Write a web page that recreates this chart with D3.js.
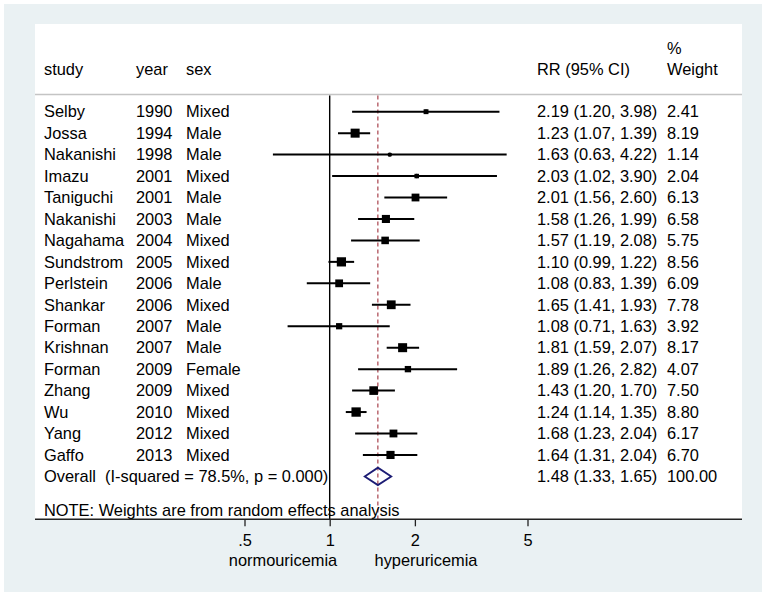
<!DOCTYPE html>
<html><head><meta charset="utf-8">
<script src="https://cdn.jsdelivr.net/npm/d3@7"></script>
<style>body{margin:0;background:#fff}svg{display:block}text{font-family:"Liberation Sans",Arial,sans-serif;font-size:16.4px;fill:#000}</style>
</head><body>
<script>
const studies = ["Selby","Jossa","Nakanishi","Imazu","Taniguchi","Nakanishi","Nagahama","Sundstrom","Perlstein","Shankar","Forman","Krishnan","Forman","Zhang","Wu","Yang","Gaffo"];
const years = [1990,1994,1998,2001,2001,2003,2004,2005,2006,2006,2007,2007,2009,2009,2010,2012,2013];
const sexes = ["Mixed","Male","Male","Mixed","Male","Male","Mixed","Mixed","Male","Mixed","Male","Male","Female","Mixed","Mixed","Mixed","Mixed"];
const rr = [2.19,1.23,1.63,2.03,2.01,1.58,1.57,1.10,1.08,1.65,1.08,1.81,1.89,1.43,1.24,1.68,1.64];
const lo = [1.20,1.07,0.63,1.02,1.56,1.26,1.19,0.99,0.83,1.41,0.71,1.59,1.26,1.20,1.14,1.23,1.31];
const hi = [3.98,1.39,4.22,3.90,2.60,1.99,2.08,1.22,1.39,1.93,1.63,2.07,2.82,1.70,1.35,2.04,2.04];
const weights = [2.41,8.19,1.14,2.04,6.13,6.58,5.75,8.56,6.09,7.78,3.92,8.17,4.07,7.50,8.80,6.17,6.70];
const overall = {rr:1.48, lo:1.33, hi:1.65, weight:100.00, label:"(I-squared = 78.5%, p = 0.000)"};
const tickValues = [0.5,1,2,5];
const tickLabels = [".5","1","2","5"];

const W=771,H=596;
const svg=d3.select("body").append("svg").attr("width",W).attr("height",H);
svg.append("rect").attr("x",4).attr("y",4).attr("width",758).attr("height",588).attr("fill","#eaf1f3");
const panel={l:35,r:742,t:24,b:519.3};
svg.append("rect").attr("x",panel.l).attr("y",panel.t).attr("width",panel.r-panel.l).attr("height",panel.b-panel.t).attr("fill","#fff");

const x=d3.scaleLog().domain([0.5,5]).range([244.5,527.5]);
const y=d3.scaleLinear().domain([0,17]).range([111.7,476.4]);
const f2=d3.format(".2f");

// header
const hdrY=69.3;
const g=svg.append("g");
g.append("text").attr("x",44).attr("y",hdrY).attr("dy","0.35em").text("study");
g.append("text").attr("x",136).attr("y",hdrY).attr("dy","0.35em").text("year");
g.append("text").attr("x",186).attr("y",hdrY).attr("dy","0.35em").text("sex");
g.append("text").attr("x",537).attr("y",hdrY).attr("dy","0.35em").text("RR (95% CI)");
g.append("text").attr("x",667).attr("y",48).attr("dy","0.35em").text("%");
g.append("text").attr("x",667).attr("y",hdrY).attr("dy","0.35em").text("Weight");
svg.append("line").attr("x1",panel.l).attr("x2",panel.r).attr("y1",94.5).attr("y2",94.5).attr("stroke","#c4c4c4").attr("stroke-width",1.5);

// reference lines
svg.append("line").attr("x1",x(1)).attr("x2",x(1)).attr("y1",95.5).attr("y2",panel.b).attr("stroke","#000").attr("stroke-width",1.4);
svg.append("line").attr("x1",x(overall.rr)).attr("x2",x(overall.rr)).attr("y1",95.5).attr("y2",panel.b)
  .attr("stroke","#a0303c").attr("stroke-width",1.1).attr("stroke-dasharray","4,3");

// rows
const rows=svg.append("g").selectAll("g").data(d3.range(studies.length)).join("g");
rows.append("text").attr("x",44).attr("y",i=>y(i)).attr("dy","0.35em").text(i=>studies[i]);
rows.append("text").attr("x",136).attr("y",i=>y(i)).attr("dy","0.35em").text(i=>years[i]);
rows.append("text").attr("x",186).attr("y",i=>y(i)).attr("dy","0.35em").text(i=>sexes[i]);
rows.append("text").attr("x",537).attr("y",i=>y(i)).attr("dy","0.35em").text(i=>`${f2(rr[i])} (${f2(lo[i])}, ${f2(hi[i])})`);
rows.append("text").attr("x",667).attr("y",i=>y(i)).attr("dy","0.35em").text(i=>f2(weights[i]));
rows.append("line").attr("x1",i=>x(lo[i])).attr("x2",i=>x(hi[i])).attr("y1",i=>y(i)).attr("y2",i=>y(i)).attr("stroke","#000").attr("stroke-width",2);
const k=3.15;
rows.append("rect").attr("x",i=>x(rr[i])-k*Math.sqrt(weights[i])/2).attr("y",i=>y(i)-k*Math.sqrt(weights[i])/2)
  .attr("width",i=>k*Math.sqrt(weights[i])).attr("height",i=>k*Math.sqrt(weights[i])).attr("fill","#000");
rows.append("circle").attr("cx",i=>x(rr[i])).attr("cy",i=>y(i)).attr("r",2.2).attr("fill","#000");

// overall
const oy=y(17);
svg.append("text").attr("x",44).attr("y",oy).attr("dy","0.35em").text("Overall");
svg.append("text").attr("x",105).attr("y",oy).attr("dy","0.35em").text(overall.label);
svg.append("text").attr("x",537).attr("y",oy).attr("dy","0.35em").text(`${f2(overall.rr)} (${f2(overall.lo)}, ${f2(overall.hi)})`);
svg.append("text").attr("x",667).attr("y",oy).attr("dy","0.35em").text(f2(overall.weight));
const dh=8.7;
svg.append("path").attr("d",`M${x(overall.lo)},${oy}L${x(overall.rr)},${oy-dh}L${x(overall.hi)},${oy}L${x(overall.rr)},${oy+dh}Z`)
  .attr("fill","none").attr("stroke","#1c1c74").attr("stroke-width",1.8);

svg.append("text").attr("x",44).attr("y",510).attr("dy","0.35em").text("NOTE: Weights are from random effects analysis");

// axis
svg.append("line").attr("x1",panel.l).attr("x2",panel.r).attr("y1",panel.b).attr("y2",panel.b).attr("stroke","#222").attr("stroke-width",1.6);
const ax=svg.append("g").attr("transform",`translate(0,${panel.b})`)
  .call(d3.axisBottom(x).tickValues(tickValues).tickFormat((d,i)=>tickLabels[i]).tickSize(7).tickPadding(8));
ax.select(".domain").remove();
ax.selectAll(".tick line").attr("stroke","#222").attr("stroke-width",1.3);
ax.selectAll("text").attr("font-family",null).attr("font-size",null).attr("fill","#000");
svg.append("text").attr("x",283).attr("y",566).attr("text-anchor","middle").text("normouricemia");
svg.append("text").attr("x",426).attr("y",566).attr("text-anchor","middle").text("hyperuricemia");
</script>
</body></html>
